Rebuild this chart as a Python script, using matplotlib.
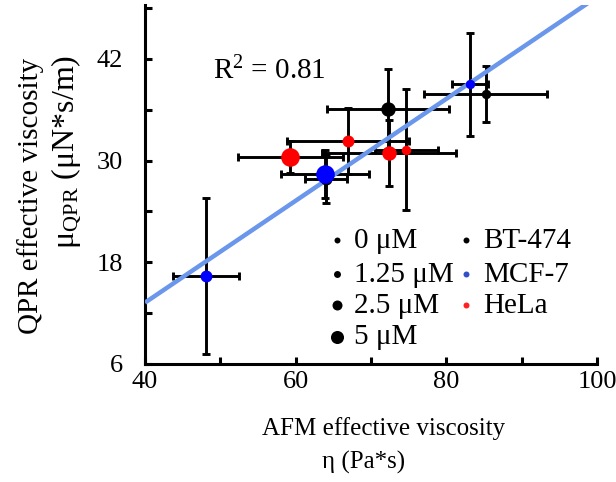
import matplotlib
matplotlib.use("Agg")
import matplotlib.pyplot as plt
import numpy as np

plt.rcParams['font.family'] = ['Liberation Serif', 'DejaVu Serif']
plt.rcParams['mathtext.fontset'] = 'custom'
plt.rcParams['mathtext.rm'] = 'Liberation Serif'
plt.rcParams['mathtext.it'] = 'Liberation Serif:italic'

# ---- data ----
concentrations = ["0 μM", "1.25 μM", "2.5 μM", "5 μM"]
cell_lines = ["BT-474", "MCF-7", "HeLa"]

# BT-474 (black)
bt_conc = [0, 1.25, 2.5]
bt_x = [85.2, 64.0, 72.3]
bt_y = [37.8, 27.8, 36.1]
bt_xerr = [8.1, 2.8, 8.1]
bt_yerr = [3.3, 2.8, 4.7]

# MCF-7 (blue)
mcf_conc = [0, 1.25, 5]
mcf_x = [83.1, 48.1, 63.9]
mcf_y = [39.0, 16.4, 28.4]
mcf_xerr = [2.4, 4.4, 5.9]
mcf_yerr = [6.1, 9.2, 2.8]

# HeLa (red)
hela_conc = [0, 1.25, 2.5, 5]
hela_x = [74.7, 66.9, 72.4, 59.3]
hela_y = [31.3, 32.3, 30.9, 30.4]
hela_xerr = [4.2, 8.1, 8.9, 7.0]
hela_yerr = [7.1, 3.9, 3.9, 1.9]

fit_slope = 0.601
fit_intercept = -10.8
r2_text = r"R$^{\mathrm{2}}$ = 0.81"

x_ticks = [40, 60, 80, 100]
y_ticks = [6, 18, 30, 42]

# ---- style ----
data_ms = {0: 6.8, 1.25: 8.6, 2.5: 10.4, 5: 13.4}
legend_ms = [4.3, 5.0, 7.2, 9.4]
colors = {"BT-474": "black", "MCF-7": "#0000ff", "HeLa": "#ff0000"}
legend_colors = {"BT-474": "black", "MCF-7": "#3050c8", "HeLa": "#ff2020"}

W, H = 616, 482
fig = plt.figure(figsize=(W/100, H/100), dpi=100)
AX_L, AX_R, AX_T, AX_B = 145, 597, 4.6, 364
ax = fig.add_axes([AX_L/W, 1-AX_B/H, (AX_R-AX_L)/W, (AX_B-AX_T)/H])
ax.set_xlim(40, 100)
ax.set_ylim(6, 48.4)

def fx(px):
    return px / W
def fy(py):
    return 1 - py / H

series = [
    ("BT-474", bt_conc, bt_x, bt_y, bt_xerr, bt_yerr),
    ("MCF-7", mcf_conc, mcf_x, mcf_y, mcf_xerr, mcf_yerr),
    ("HeLa", hela_conc, hela_x, hela_y, hela_xerr, hela_yerr),
]

# error bars
for name, conc, xs, ys, xe, ye in series:
    ax.errorbar(xs, ys, xerr=xe, yerr=ye, fmt='none', ecolor='black',
                elinewidth=2.1, capsize=3, capthick=2.1, zorder=2)

# fit line
xl = np.array(ax.get_xlim())
ax.plot(xl, fit_intercept + fit_slope * xl, color='#6a96ec', lw=3.2, zorder=3,
        solid_capstyle='butt')

# markers
for name, conc, xs, ys, xe, ye in series:
    for c, x, y in zip(conc, xs, ys):
        ax.plot([x], [y], 'o', color=colors[name], ms=data_ms[c], mec='none', zorder=4)

fig.text(fx(213), fy(71), r2_text, fontsize=21, va='center', ha='left')

# legend (manual, figure coords)
leg_rows = [240, 273.5, 305, 336.5]
for lab, ms, ypx in zip(concentrations, legend_ms, leg_rows):
    fig.lines.append(plt.Line2D([fx(337)], [fy(ypx)], marker='o', color='black', ms=ms,
                                mec='none', ls='none', transform=fig.transFigure))
    fig.text(fx(354), fy(ypx + 1), lab, fontsize=21, va='center', ha='left')
for lab, ypx in zip(cell_lines, leg_rows[:3]):
    fig.lines.append(plt.Line2D([fx(466)], [fy(ypx)], marker='o', color=legend_colors[lab],
                                ms=4.3, mec='none', ls='none', transform=fig.transFigure))
    fig.text(fx(483), fy(ypx + 1), lab, fontsize=21, va='center', ha='left')

# axes styling
for s in ['top', 'right']:
    ax.spines[s].set_visible(False)
for s in ['left', 'bottom']:
    ax.spines[s].set_linewidth(2.2)
ax.set_xticks(x_ticks)
ax.set_yticks(y_ticks)
ax.set_xticks(np.arange(40, 101, 10), minor=True)
ax.set_yticks(np.arange(6, 49, 6), minor=True)
ax.tick_params(which='both', direction='in', length=5, width=2.2, labelsize=19)
ax.tick_params(axis='x', pad=5)
ax.tick_params(axis='y', pad=16)

# axis labels (placed as separate lines)
fig.text(fx(384), fy(429), "AFM effective viscosity", fontsize=18, ha='center', va='center')
fig.text(fx(364), fy(462), "η (Pa*s)", fontsize=18, ha='center', va='center')
fig.text(fx(31), fy(196), "QPR effective viscosity", fontsize=21, ha='center', va='center',
         rotation=90)
fig.text(fx(66), fy(152), "μ$_{\\mathrm{QPR}}$ (μN*s/m)", fontsize=23, ha='center',
         va='center', rotation=90)

fig.savefig("out.png", dpi=100)
